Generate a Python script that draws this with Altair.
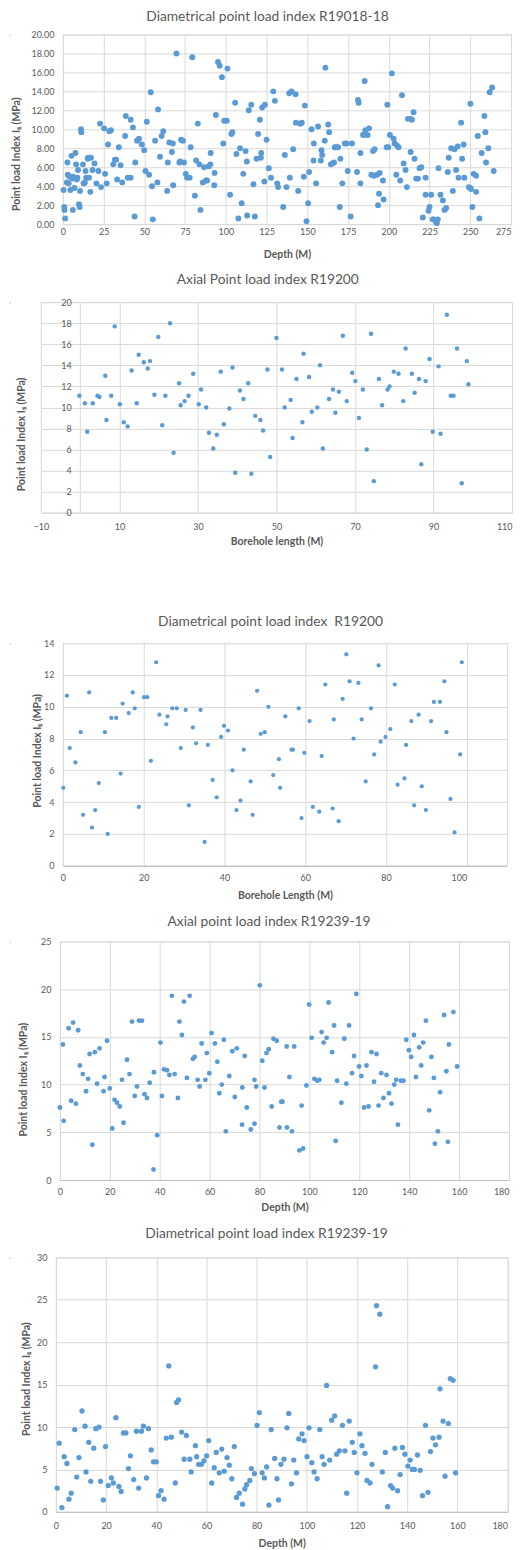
import altair as alt
import pandas as pd

BLUE = "#5B9BD5"
GREY = "#595959"
YTITLE = "Point load Index I\u209b (MPa)"

# ---------- Panel 1: Diametrical point load index R19018-18 ----------
p1_depth = [0.4, 0.8, 1.0, 1.4, 2.4, 2.8, 3.0, 3.6, 4.2, 4.6, 5.3, 5.7, 6.1, 6.3, 7.1, 7.7, 8.1, 8.5, 8.9, 9.3,
            9.9, 10.3, 10.5, 11.1, 11.3, 12.3, 12.7, 13.1, 13.5, 13.9, 14.3, 15.2, 15.6, 16.0, 16.8, 17.2, 18.2,
            19.4, 20.6, 21.8, 22.8, 23.4, 25.3, 25.9, 26.9, 27.7, 28.5, 29.5, 30.9, 31.9, 32.7, 33.3, 34.3, 35.4,
            36.4, 38.6, 38.2, 39.8, 41.6, 41.6, 43.0, 44.0, 44.4, 45.5, 46.7, 48.5, 49.9, 50.7, 51.5, 52.9, 53.9,
            54.7, 55.2, 56.6, 58.0, 58.4, 59.6, 60.6, 61.6, 64.4, 64.0, 65.3, 66.9, 67.5, 67.7, 69.7, 71.5, 71.9,
            72.5, 73.7, 74.3, 75.4, 76.2, 77.8, 78.4, 79.4, 81.0, 81.8, 82.8, 83.8, 84.4, 85.9, 86.7, 87.9, 88.5,
            89.5, 90.7, 90.5, 92.9, 93.1, 93.9, 95.2, 96.2, 97.6, 98.4, 99.0, 100.6, 101.0, 102.6, 103.4, 104.0,
            105.7, 106.5, 107.7, 108.7, 109.7, 110.7, 112.1, 112.9, 113.1, 114.1, 115.6, 117.0, 117.8, 118.8,
            119.8, 120.9, 121.5, 121.7, 122.3, 123.6, 124.0, 125.0, 126.4, 127.7, 129.1, 130.1, 131.5, 132.1,
            135.2, 136.2, 137.2, 138.9, 139.3, 140.3, 141.3, 142.8, 143.0, 144.4, 145.4, 146.0, 146.6, 147.9,
            148.5, 149.5, 150.5, 151.1, 152.6, 154.0, 153.8, 155.4, 156.6, 158.7, 159.1, 158.3, 160.7, 161.1,
            162.8, 163.4, 164.4, 165.4, 166.4, 166.8, 167.9, 168.9, 169.9, 170.3, 171.5, 173.0, 174.0, 174.8,
            176.6, 177.4, 180.5, 181.1, 181.5, 182.6, 182.6, 184.2, 184.8, 185.6, 185.2, 187.0, 187.9, 189.3,
            190.3, 190.9, 191.3, 192.8, 194.0, 194.4, 196.4, 196.8, 193.4, 199.1, 198.7, 199.7, 200.7, 201.9,
            203.0, 203.6, 204.6, 205.0, 206.0, 207.0, 208.1, 209.1, 210.3, 211.1, 211.7, 213.4, 214.2, 215.2,
            213.4, 215.8, 216.8, 217.9, 218.9, 219.9, 220.9, 222.6, 222.6, 225.0, 224.4, 226.0, 227.0, 227.7,
            228.7, 229.5, 230.1, 230.5, 231.7, 233.2, 234.2, 235.2, 236.2, 236.8, 238.3, 239.3, 240.3, 241.3,
            242.3, 242.8, 244.4, 245.0, 246.0, 246.4, 249.1, 249.9, 250.1, 250.5, 251.3, 252.1, 253.6, 253.6,
            254.6, 255.6, 257.0, 258.7, 259.3, 259.7, 261.1, 261.9, 263.4, 264.4]
p1_is = [3.6, 1.8, 1.5, 0.6, 4.4, 6.5, 5.2, 4.3, 5.0, 3.6, 7.2, 4.8, 1.5, 5.0, 3.8, 7.5, 6.3, 4.7, 4.9, 5.7,
         2.1, 1.8, 3.5, 10.0, 9.7, 6.3, 4.3, 4.3, 4.4, 5.6, 4.9, 6.9, 7.0, 4.9, 3.4, 7.0, 5.7,
         6.4, 4.3, 5.6, 10.6, 3.9, 10.1, 5.3, 4.3, 8.4, 9.8, 9.9, 6.3, 6.8, 6.8, 4.7, 8.1, 6.2,
         4.4, 11.4, 9.3, 4.9, 4.9, 11.0, 10.2, 0.8, 6.5, 8.8, 9.0, 8.4, 7.8, 5.6, 10.8, 5.2, 13.9,
         4.0, 0.5, 8.8, 4.4, 12.1, 7.1, 9.3, 9.8, 6.5, 3.5, 8.6, 7.6, 8.5, 4.1, 18.0, 6.5, 6.6,
         8.9, 8.8, 6.5, 5.3, 4.9, 4.9, 8.1, 17.6, 3.0, 6.7, 10.6, 6.3, 1.5, 4.4, 6.0, 4.6, 4.6,
         6.1, 7.5, 6.3, 4.1, 5.4, 11.5, 17.1, 16.7, 15.5, 8.5, 10.9, 10.9, 16.4, 3.1, 9.5, 9.7,
         12.8, 7.4, 0.6, 8.0, 2.2, 5.3, 7.7, 6.6, 0.9, 12.0, 12.6, 4.2, 0.8, 6.9,
         9.5, 11.0, 7.0, 7.5, 12.3, 4.5, 12.6, 8.9, 5.9, 4.9, 14.0, 13.0, 4.3, 3.9,
         1.8, 7.3, 3.9, 13.8, 4.9, 14.0, 7.9, 13.7, 10.7, 3.5, 10.6, 10.6, 10.7, 5.0,
         12.5, 0.3, 2.2, 5.5, 10.0, 8.5, 6.7, 4.3, 10.3, 7.8, 7.3, 6.7, 8.8, 16.5,
         10.5, 9.7, 6.3, 6.4, 6.5, 8.1, 8.1, 8.1, 1.8, 6.9, 4.3, 8.5, 8.5, 5.6,
         0.8, 8.5, 5.5, 13.1, 12.8, 7.5, 4.3, 9.4, 9.4, 9.9, 15.1, 9.4, 10.1, 5.2,
         7.7, 5.1, 7.9, 5.2, 3.2, 5.4, 4.6, 2.6, 2.0, 12.6, 8.1, 8.1, 9.4, 15.9,
         9.0, 8.5, 5.2, 8.3, 8.1, 4.6, 13.6, 6.4, 5.7, 3.9, 11.1, 11.1, 11.0, 11.8,
         7.6, 6.9, 4.8, 4.8, 5.9, 6.0, 0.7, 4.9, 3.1, 1.8, 1.4, 3.1, 0.5, 0.5,
         0.3, 0.1, 0.5, 5.9, 3.1, 2.5, 1.5, 1.7, 5.5, 7.0, 8.0, 3.5, 7.9, 5.7,
         8.2, 4.9, 10.7, 6.9, 8.4, 4.9, 3.9, 3.8, 12.7, 3.7, 1.8, 5.3, 5.1, 3.4,
         9.3, 0.6, 7.5, 11.4, 9.7, 6.5, 8.0, 13.9, 14.4, 5.6]

# ---------- Panel 2: Axial Point load index R19200 ----------
p2_length = [-0.2, 1.2, 1.8, 3.2, 4.4, 4.9, 6.4, 6.7, 7.9, 8.8, 10.1, 11.1, 12.1, 13.1, 14.4, 14.9, 16.2, 17.2,
             17.8, 18.9, 19.9, 20.9, 21.7, 22.9, 23.8, 25.2, 25.6, 26.6, 27.6, 28.8, 30.2, 30.8, 32.1, 32.8,
             33.9, 34.8, 35.8, 36.6, 38.0, 38.8, 39.5, 40.7, 41.6, 42.8, 43.6, 44.6, 45.9, 46.6, 47.7, 48.4,
             50.0, 51.4, 52.1, 53.6, 54.1, 55.1, 56.6, 56.9, 58.3, 59.0, 60.4, 61.1, 61.8, 63.4, 64.4, 65.0,
             65.9, 66.9, 67.9, 69.3, 70.1, 71.0, 72.0, 73.0, 74.1, 74.8, 76.1, 76.9, 78.3, 78.8, 79.9, 81.1,
             82.3, 82.9, 84.5, 85.2, 86.3, 86.9, 88.0, 89.0, 89.8, 91.3, 91.8, 93.4, 94.4, 95.1, 96.0, 97.2,
             98.5, 98.9]
p2_is = [11.1, 10.4, 7.7, 10.4, 11.1, 11.0, 13.0, 8.8, 11.1, 17.7, 10.3, 8.6, 8.2, 13.5, 10.4, 15.0, 14.3, 13.7,
         14.4, 11.2, 16.7, 8.3, 11.1, 18.0, 5.7, 12.3, 10.2, 10.6, 11.1, 13.2, 10.3, 11.7, 10.0, 7.6,
         6.1, 7.4, 13.4, 8.4, 9.9, 13.8, 3.8, 11.6, 10.8, 12.3, 3.7, 9.2, 8.8, 7.8, 13.6, 5.3,
         16.6, 13.6, 10.0, 10.7, 7.1, 12.7, 8.6, 15.1, 12.9, 9.6, 10.0, 14.0, 6.1, 10.8, 11.7, 9.5,
         11.5, 16.8, 10.6, 13.3, 12.5, 9.0, 11.7, 6.0, 17.0, 3.0, 12.7, 10.2, 11.7, 12.0, 13.4, 13.2,
         10.6, 15.6, 13.2, 11.4, 12.7, 4.6, 12.5, 14.6, 7.7, 13.9, 7.5, 18.8, 11.1, 11.1, 15.6, 2.8,
         14.4, 12.2]

# ---------- Panel 3: Diametrical point load index R19200 ----------
p3_length = [0.1, 1.0, 1.7, 3.1, 4.4, 5.0, 6.5, 7.2, 8.0, 8.9, 10.4, 11.1, 12.0, 13.2, 14.3, 14.8, 16.3, 17.3,
             17.8, 18.8, 20.1, 20.9, 21.8, 23.1, 23.9, 25.6, 25.9, 27.1, 28.2, 29.2, 30.4, 31.2, 32.2, 33.0,
             34.1, 35.1, 35.9, 37.1, 38.1, 39.2, 39.9, 40.9, 42.0, 43.0, 44.0, 44.8, 46.5, 47.0, 48.1, 49.0,
             50.0, 50.9, 52.1, 53.5, 53.8, 55.1, 56.6, 57.0, 58.4, 59.1, 59.8, 61.1, 61.9, 63.5, 64.1, 65.0,
             66.8, 67.1, 68.3, 69.3, 70.2, 71.0, 72.0, 73.2, 74.0, 75.0, 76.3, 77.1, 78.2, 78.7, 79.9, 81.1,
             82.2, 82.9, 84.6, 85.0, 86.3, 87.0, 88.1, 88.9, 89.9, 91.2, 91.9, 93.4, 94.5, 95.0, 96.0, 97.0,
             98.4, 98.8]
p3_is = [4.9, 10.7, 7.4, 6.5, 8.4, 3.2, 10.9, 2.4, 3.5, 5.2, 8.4, 2.0, 9.3, 9.3, 5.8, 10.2, 9.6, 10.9,
         9.9, 3.7, 10.6, 10.6, 6.6, 12.8, 9.5, 8.9, 9.4, 9.9, 9.9, 7.4, 9.8, 3.8, 8.7, 7.7,
         9.8, 1.5, 7.6, 5.4, 4.3, 8.1, 8.8, 8.5, 6.0, 3.5, 4.1, 7.3, 5.3, 3.2, 11.0, 8.3,
         8.4, 10.0, 5.7, 6.7, 4.9, 9.4, 7.3, 7.3, 9.9, 3.0, 7.1, 9.1, 3.7, 3.4, 6.9, 11.4,
         3.6, 9.2, 2.8, 10.5, 13.3, 11.6, 8.0, 11.5, 9.2, 5.3, 9.9, 7.0, 12.6, 7.8, 8.1, 8.6,
         11.4, 5.1, 5.5, 7.6, 9.1, 3.8, 9.5, 5.0, 3.5, 9.1, 10.3, 10.3, 11.6, 8.4, 4.2, 2.1,
         7.0, 12.8]

# ---------- Panel 4: Axial point load index R19239-19 ----------
p4_depth = [0.0, 1.2, 1.5, 3.5, 4.5, 5.3, 6.4, 7.3, 8.0, 9.2, 10.5, 11.3, 11.9, 13.0, 14.0, 14.9, 15.9, 17.5,
            17.9, 18.9, 20.0, 21.0, 21.9, 22.9, 24.0, 24.9, 25.5, 26.9, 27.9, 28.9, 30.0, 30.9, 31.7, 32.9,
            33.9, 34.9, 36.0, 37.5, 37.7, 39.0, 40.3, 40.9, 41.7, 42.9, 43.9, 44.9, 46.0, 47.3, 47.9, 48.9,
            49.7, 50.9, 52.0, 53.3, 54.0, 55.2, 56.0, 56.8, 58.3, 58.9, 59.9, 60.8, 62.1, 63.1, 63.9, 64.9,
            65.7, 66.5, 67.9, 69.1, 70.1, 70.9, 73.0, 73.1, 74.1, 74.9, 76.5, 78.0, 78.0, 78.7, 80.1, 81.1,
            82.0, 82.8, 83.7, 84.9, 85.6, 86.9, 88.0, 88.7, 89.2, 90.9, 91.0, 92.0, 93.0, 93.9, 96.0, 96.9,
            97.5, 98.8, 99.9, 100.9, 102.0, 103.2, 104.0, 104.9, 105.7, 106.9, 107.7, 109.1, 109.9, 110.5,
            111.1, 112.8, 114.0, 114.8, 115.9, 117.1, 117.9, 118.8, 119.9, 120.8, 121.9, 122.9, 123.7, 124.9,
            125.9, 126.9, 127.7, 128.8, 129.7, 130.9, 131.9, 132.9, 134.0, 134.8, 135.5, 136.7, 137.7, 138.8,
            139.9, 140.8, 141.9, 142.7, 144.0, 144.8, 145.6, 146.7, 148.0, 148.9, 149.9, 150.3, 151.5, 152.4,
            154.0, 154.9, 155.5, 155.9, 157.7, 159.2]
p4_is = [7.6, 14.2, 6.2, 15.9, 8.3, 16.5, 8.0, 15.7, 12.0, 11.1, 9.3, 10.6, 13.2, 3.7, 13.4, 10.1, 13.8, 9.3,
         10.8, 14.6, 9.6, 5.4, 8.4, 8.1, 7.7, 10.5, 6.0, 12.6, 11.1, 16.6, 8.8, 9.8, 16.7, 16.7,
         9.0, 8.6, 10.2, 1.1, 11.3, 4.7, 14.4, 8.8, 11.6, 11.5, 11.0, 19.3, 11.1, 8.6, 16.6, 15.2,
         18.7, 10.7, 19.3, 12.7, 12.9, 10.5, 9.8, 14.3, 10.5, 13.3, 11.2, 15.4, 14.3, 12.4, 9.1, 10.0,
         14.7, 5.1, 10.9, 13.5, 8.7, 13.8, 5.8, 9.7, 13.0, 7.6, 5.3, 10.5, 5.9, 9.8, 20.4, 12.5,
         9.7, 13.3, 13.7, 7.7, 14.8, 14.6, 5.5, 8.2, 8.2, 14.0, 5.5, 10.8, 5.1, 14.0, 3.1, 7.8,
         3.3, 9.9, 18.4, 14.9, 10.6, 10.4, 10.5, 15.5, 14.4, 14.9, 18.6, 13.4, 16.2, 4.1,
         10.4, 8.1, 14.8, 10.1, 16.2, 11.2, 13.0, 19.5, 11.9, 10.9, 7.6, 12.0, 7.7, 13.4,
         10.3, 13.2, 7.8, 11.2, 8.6, 11.0, 9.1, 8.0, 10.0, 10.5, 5.8, 10.4, 10.4, 14.7,
         13.6, 12.9, 15.2, 10.8, 13.9, 12.0, 14.4, 16.7, 7.3, 12.9, 10.7, 3.8, 5.1, 9.2,
         17.3, 11.4, 4.0, 14.2, 17.6, 11.9]

# ---------- Panel 5: Diametrical point load index R19239-19 ----------
p5_depth = [0.5, 1.3, 2.4, 3.3, 4.4, 5.2, 6.1, 7.5, 8.3, 9.2, 10.4, 11.6, 12.0, 13.1, 13.9, 15.1, 15.9, 17.2,
            17.8, 18.9, 19.8, 20.9, 22.1, 22.9, 23.9, 25.1, 26.0, 26.9, 27.9, 28.9, 29.7, 31.0, 32.1, 33.0,
            34.1, 34.9, 36.1, 36.9, 38.0, 38.9, 40.0, 40.9, 41.9, 43.1, 44.0, 45.0, 46.0, 47.6, 48.1, 48.9,
            50.1, 51.1, 52.0, 53.4, 53.9, 55.6, 56.1, 56.9, 58.0, 59.0, 60.1, 60.9, 62.1, 63.1, 63.9, 65.1,
            66.1, 67.1, 68.2, 69.1, 70.1, 71.1, 72.0, 73.1, 74.4, 75.3, 76.0, 77.3, 77.9, 79.1, 80.2, 81.1,
            82.2, 83.1, 84.0, 84.9, 85.8, 87.2, 88.1, 88.7, 89.7, 90.9, 92.1, 92.8, 93.9, 94.8, 95.9, 96.8,
            98.1, 98.9, 100.1, 100.9, 102.0, 102.9, 104.1, 105.2, 106.1, 106.9, 107.9, 109.1, 109.9, 111.1,
            111.9, 113.0, 114.2, 115.2, 115.9, 116.9, 118.1, 118.9, 120.0, 121.2, 122.0, 123.2, 124.0, 125.2,
            126.0, 127.4, 127.8, 129.1, 130.1, 131.3, 132.2, 133.4, 134.2, 135.1, 136.2, 137.2, 138.1, 139.1,
            140.3, 141.2, 142.1, 142.9, 144.1, 145.2, 146.1, 147.3, 148.3, 149.3, 150.3, 151.3, 152.7, 153.1,
            154.3, 155.1, 156.4, 157.2, 158.3, 159.3]
p5_is = [2.8, 8.1, 0.5, 6.5, 5.7, 1.5, 2.2, 9.7, 4.1, 6.4, 11.9, 10.1, 4.7, 8.2, 3.6, 7.5, 9.8, 10.0,
         3.6, 1.4, 7.7, 3.1, 4.0, 3.4, 11.1, 3.0, 2.4, 9.3, 9.3, 5.1, 6.6, 3.8, 9.5, 2.8,
         9.5, 10.1, 4.0, 9.8, 7.3, 5.9, 5.9, 1.9, 2.5, 1.5, 8.7, 17.2, 8.8, 3.4, 12.9, 13.2,
         9.4, 6.2, 9.0, 6.2, 4.7, 7.8, 6.5, 5.6, 5.6, 6.0, 6.6, 8.4, 3.4, 5.2, 7.0, 4.6,
         7.4, 4.8, 6.4, 5.5, 3.9, 7.7, 1.7, 2.2, 0.9, 2.7, 3.2, 3.7, 5.1, 4.5, 10.2, 11.7,
         4.6, 4.0, 5.3, 0.8, 9.7, 6.3, 3.9, 1.4, 5.6, 6.2, 9.9, 11.6, 3.3, 6.1, 4.6, 8.6,
         9.2, 8.4, 6.5, 9.9, 5.8, 4.7, 3.9, 9.7, 6.5, 5.6, 14.9, 6.1, 10.8, 11.3,
         6.8, 7.2, 10.2, 7.2, 2.2, 10.7, 8.2, 7.0, 4.6, 9.2, 7.8, 6.9, 3.7, 3.4,
         5.6, 17.1, 24.3, 23.3, 4.7, 7.0, 0.6, 3.1, 2.8, 7.5, 2.5, 4.4, 7.6, 6.8,
         5.4, 6.1, 5.0, 5.0, 6.7, 4.9, 1.9, 10.2, 2.3, 7.1, 8.7, 7.9, 8.8, 14.5,
         10.7, 4.2, 10.4, 15.7, 15.5, 4.6]


def axis_common():
    return dict(grid=True, gridColor="#D9D9D9", gridWidth=1, ticks=False, tickSize=0,
                labelColor=GREY, labelFont="Lato", labelFontSize=9, labelOverlap=False,
                titleColor=GREY, titleFont="Lato", titleFontSize=10.5, titleFontWeight="bold")


def panel(xs, ys, title, xtitle, xdom, xvals, ydom, yvals, yfmt, w, h, size,
          toff, tdx, xlp, xtp, xdomcol, ytx, yty, yline, ylp=9, xlabel_expr=None):
    df = pd.DataFrame({"x": xs, "y": ys})
    yaxis_kw = axis_common()
    yaxis_kw.update(values=yvals, format=yfmt, labelPadding=ylp, title=["", YTITLE],
                    titleLineHeight=yline, titleX=ytx, titleY=yty, domain=False)
    xaxis_kw = axis_common()
    last = xvals[-1]
    xaxis_kw.update(values=xvals, format="d", labelPadding=xlp, titlePadding=xtp, title=xtitle,
                    labelFlush=False, domain=True, domainColor=xdomcol,
                    labelAlign={"condition": {"test": "datum.value >= %s" % last, "value": "right"},
                                "value": "center"})
    if xlabel_expr:
        xaxis_kw["labelExpr"] = xlabel_expr
    ch = alt.Chart(df, title=alt.TitleParams(
        text=title, font="Lato", fontSize=13.8, fontWeight="normal", color=GREY,
        offset=toff, dx=tdx, anchor="middle")).mark_circle(
        size=size, color=BLUE, opacity=1).encode(
        x=alt.X("x:Q", scale=alt.Scale(domain=xdom, nice=False, zero=False), axis=alt.Axis(**xaxis_kw)),
        y=alt.Y("y:Q", scale=alt.Scale(domain=ydom, nice=False, zero=False), axis=alt.Axis(**yaxis_kw)),
    ).properties(width=w, height=h)
    # an empty 1px column in front of each panel makes every row start at its own
    # outer left edge (y-axis title), as the separately pasted charts in the reference do
    lead = alt.Chart(df).mark_text(text="", opacity=0).encode(
        x=alt.X("x:Q", axis=None), y=alt.Y("y:Q", axis=None)).properties(width=1, height=1)
    return alt.hconcat(lead, ch, spacing=0)


c1 = panel(p1_depth, p1_is, "Diametrical point load index R19018-18", "Depth (M)",
           [0, 275], list(range(0, 276, 25)), [0, 20], list(range(0, 21, 2)), ".2f",
           449, 190, 35, 6.5, -19.5, 3, 13.5, "#D9D9D9", -41.5, 119.5, 0.5)
c2 = panel(p2_length, p2_is, "Axial Point load index R19200", "Borehole length (M)",
           [-10, 110], [-10, 0, 10, 30, 50, 70, 90, 110], [0, 20], list(range(0, 21, 2)), "d",
           472, 211, 20, 11.5, -8.7, 10, 4.5, "#D9D9D9", -19.5, 132, 4.9, ylp=-30.4,
           xlabel_expr="datum.value == 0 ? '' : datum.label")
c3 = panel(p3_length, p3_is, "Diametrical point load index\u00a0 R19200", "Borehole Length (M)",
           [0, 110], list(range(0, 101, 20)), [0, 14], list(range(0, 15, 2)), "d",
           445, 223, 18, 10.5, -14.5, 8, 7.5, "#BFBFBF", -41.5, 107.5, 20.9)
c4 = panel(p4_depth, p4_is, "Axial point load index R19239-19", "Depth (M)",
           [0, 180], list(range(0, 181, 20)), [0, 25], list(range(0, 26, 5)), "d",
           450, 239, 24, 8.5, -15.5, 8, 6, "#BFBFBF", -38.5, 138, 6.9)
c5 = panel(p5_depth, p5_is, "Diametrical point load index R19239-19", "Depth (M)",
           [0, 180], list(range(0, 181, 20)), [0, 30], list(range(0, 31, 5)), "d",
           452.5, 255, 28, 12.5, -15.25, 10, 7.5, "#BFBFBF", -34.5, 121.5, 10.4)

top = alt.vconcat(c1, c2, spacing=11.2)
mid = alt.vconcat(c3, c4, spacing=12.9)
bottom = alt.vconcat(mid, c5, spacing=12.4)
chart = alt.vconcat(top, bottom, spacing=66.9).properties(
    padding={"left": 0, "top": 0, "right": 0, "bottom": 0}
).configure_view(stroke=None).configure(background="white")

chart.save("out.html", embed_options={"renderer": "svg", "actions": False})
